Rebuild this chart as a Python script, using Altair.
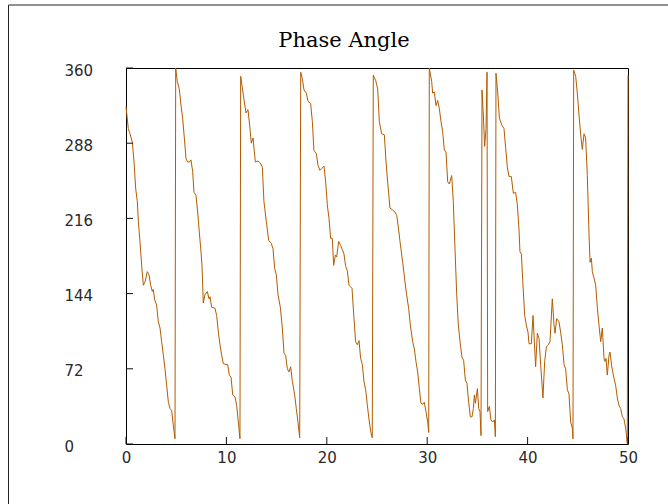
import altair as alt
import pandas as pd

TITLE = "Phase Angle"

# time (x) and phase angle in degrees (y)
TIME = [
    0, 0.23, 0.4, 0.63, 0.8, 0.96, 1.13, 1.23, 1.39, 1.56, 1.73, 1.89, 2.12, 2.29, 2.46,
    2.62, 2.72, 2.86, 3.05, 3.22, 3.39, 3.55, 3.72, 3.88, 4.05, 4.22, 4.38, 4.55, 4.71, 4.88,
    4.95, 5.11, 5.31, 5.48, 5.64, 5.81, 5.98, 6.14, 6.31, 6.47, 6.64, 6.77, 6.97, 7.14, 7.30,
    7.47, 7.57, 7.70, 7.87, 8.1, 8.27, 8.37, 8.53, 8.86, 9.03, 9.2, 9.36, 9.53, 9.69, 9.96,
    10.13, 10.29, 10.46, 10.63, 10.86, 11.02, 11.19, 11.35,
    11.42, 11.69, 11.95, 12.15, 12.32, 12.48, 12.65, 12.88, 13.15, 13.38, 13.58, 13.74, 13.98,
    14.21, 14.47, 14.64, 14.81, 14.97, 15.14, 15.37, 15.57, 15.74, 15.9, 16.07, 16.23, 16.4,
    16.57, 16.8, 16.96, 17.13, 17.3,
    17.4, 17.56, 17.73, 17.96, 18.13, 18.39, 18.56, 18.72, 18.96, 19.12, 19.32, 19.52, 19.72,
    19.89, 20.05, 20.22, 20.38, 20.55, 20.68, 20.85, 20.98, 21.18, 21.38, 21.55, 21.71, 21.88,
    22.04, 22.21, 22.51, 22.71, 22.87, 23.04, 23.21, 23.37, 23.54, 23.7, 23.87, 24.04, 24.2,
    24.37, 24.53,
    24.63, 24.87, 25.07, 25.23, 25.46, 25.73, 25.9, 26.06, 26.29, 26.56, 26.79, 26.96, 27.12,
    27.29, 27.56, 27.79, 27.95, 28.15, 28.32, 28.55, 28.72, 28.88, 29.05, 29.22, 29.38, 29.55,
    29.71, 29.88, 30.05, 30.15,
    30.21, 30.45, 30.54, 30.71, 30.88, 31.04, 31.21, 31.37, 31.54, 31.71, 31.87, 32.04, 32.2,
    32.44, 32.6, 32.77, 32.94, 33.1, 33.27, 33.47, 33.63, 33.8, 33.96, 34.13, 34.3, 34.46,
    34.6, 34.7, 34.8, 35.0, 35.13, 35.26, 35.36, 35.46, 35.59, 35.72, 35.86, 35.96, 36.02,
    36.19, 36.35, 36.52, 36.69, 36.79,
    36.85, 37.02, 37.19, 37.45, 37.65, 37.82, 37.98, 38.15, 38.38, 38.58, 38.81, 38.98, 39.14,
    39.24, 39.38, 39.54, 39.71, 39.87, 40.04, 40.14, 40.37, 40.54, 40.64, 40.8, 40.97, 41.14,
    41.3, 41.53, 41.7, 41.87, 42.07, 42.23, 42.46, 42.63, 42.73, 42.9, 43.13, 43.29, 43.46,
    43.63, 43.79, 43.96, 44.12, 44.29, 44.46, 44.52,
    44.59, 44.79, 44.95, 45.12, 45.29, 45.45, 45.62, 45.78, 45.95, 46.12, 46.22, 46.35, 46.45,
    46.61, 46.78, 46.95, 47.11, 47.28, 47.44, 47.61, 47.71, 47.81, 47.94, 48.11, 48.21, 48.37,
    48.54, 48.77, 48.94, 49.1, 49.27, 49.44, 49.6, 49.77, 49.93, 50.0,
]

PHASE = [
    323, 302, 297, 289, 270, 245, 232, 213, 194, 171, 152, 155, 165, 162, 152,
    146, 148, 138, 133, 117, 111, 98, 85, 72, 56, 40, 34, 32, 18, 5,
    360, 347, 340, 324, 312, 293, 273, 270, 270, 272, 261, 241, 238, 222, 203,
    184, 171, 135, 143, 146, 139, 141, 131, 130, 123, 107, 95, 85, 77, 76,
    76, 66, 64, 47, 45, 37, 21, 5,
    352, 334, 317, 320, 305, 288, 293, 270, 271, 269, 265, 232, 213,
    195, 192, 187, 168, 162, 143, 131, 111, 87, 85, 72, 69, 74,
    60, 47, 34, 21, 6,
    356, 350, 339, 336, 328, 326, 309, 281, 278, 267, 262, 264, 266,
    251, 229, 216, 197, 197, 171, 181, 179, 194, 190, 186, 182, 170,
    166, 152, 149, 120, 98, 95, 99, 82, 76, 60, 52, 37, 24,
    12, 6,
    353, 348, 340, 309, 297, 296, 270, 251, 226, 224, 222, 219, 208,
    194, 174, 155, 143, 130, 114, 98, 91, 79, 69, 53, 39, 38,
    40, 31, 21, 11,
    360, 347, 336, 337, 324, 329, 321, 309, 299, 281, 280, 251, 249,
    257, 232, 187, 143, 114, 98, 83, 80, 61, 58, 40, 26, 26,
    34, 47, 39, 53, 34, 31, 8, 339, 315, 285, 302, 356, 31,
    36, 23, 21, 23, 7,
    355, 337, 312, 305, 302, 283, 265, 256, 256, 240, 241, 229, 206,
    184, 182, 152, 123, 114, 107, 96, 96, 123, 104, 74, 106, 101,
    76, 44, 79, 93, 95, 98, 139, 114, 106, 120, 117, 107, 95,
    76, 72, 52, 48, 21, 15, 5,
    358, 352, 336, 315, 296, 282, 297, 293, 257, 200, 174, 178, 165,
    159, 152, 130, 114, 98, 111, 82, 79, 82, 66, 85, 88, 75,
    66, 56, 44, 37, 34, 26, 24, 15, 0.5, 353,
]

X_TICKS = [0, 10, 20, 30, 40, 50]
Y_TICKS = [0, 72, 144, 216, 288, 360]

W, H = 502, 376
LINE_COLOR = "#b35c00"
AXIS_COLOR = "#111111"

df = pd.DataFrame({"t": TIME, "phase": PHASE})
xscale = alt.Scale(domain=[0, 50], nice=False, zero=False)
yscale = alt.Scale(domain=[0, 360], nice=False, zero=False)

xaxis = alt.Axis(
    values=X_TICKS, title=None, ticks=False, domain=False, grid=False,
    labelFont="DejaVu Sans", labelFontSize=15, labelColor="#2a2a2a",
    labelPadding=6, labelBaseline="top", labelFlush=False, labelOverlap=False)
yaxis = alt.Axis(
    values=Y_TICKS, title=None, ticks=False, domain=False, grid=False,
    labelFont="DejaVu Sans", labelFontSize=15, labelColor="#2a2a2a",
    labelAlign="left", labelPadding=62, labelOffset=2, labelFlush=False,
    labelOverlap=False)

line = alt.Chart(df).mark_line(color=LINE_COLOR, strokeWidth=1).encode(
    x=alt.X("t:Q", scale=xscale, axis=xaxis),
    y=alt.Y("phase:Q", scale=yscale, axis=yaxis),
)

yticks = alt.Chart(pd.DataFrame({"phase": Y_TICKS})).mark_rule(
    color=AXIS_COLOR, strokeWidth=1).encode(
    y=alt.Y("phase:Q", scale=yscale, axis=yaxis), x=alt.value(0), x2=alt.value(7))
xticks = alt.Chart(pd.DataFrame({"t": X_TICKS})).mark_rule(
    color=AXIS_COLOR, strokeWidth=1).encode(
    x=alt.X("t:Q", scale=xscale, axis=xaxis), y=alt.value(H), y2=alt.value(H - 7))

one = pd.DataFrame({"k": [0]})
frame_top = alt.Chart(one).mark_rule(color="#222222", strokeWidth=1).encode(
    x=alt.value(-117.5), x2=alt.value(W + 60), y=alt.value(-63))
frame_left = alt.Chart(one).mark_rule(color="#222222", strokeWidth=1).encode(
    x=alt.value(-117.5), y=alt.value(-63), y2=alt.value(H + 80))

title = alt.Chart(one).mark_text(
    text=TITLE, font="DejaVu Serif", fontSize=21, fontWeight="normal",
    color="black", align="center", baseline="alphabetic").encode(
    x=alt.value(218), y=alt.value(-21.5))

chart = alt.layer(frame_top, frame_left, title, line, yticks, xticks).properties(
    width=W, height=H,
    autosize="none",
    background="white",
    padding={"left": 126, "top": 68, "right": 40, "bottom": 60},
).configure_view(stroke="black", strokeWidth=1)

chart.save("out.html", embed_options={"renderer": "svg", "actions": False})
